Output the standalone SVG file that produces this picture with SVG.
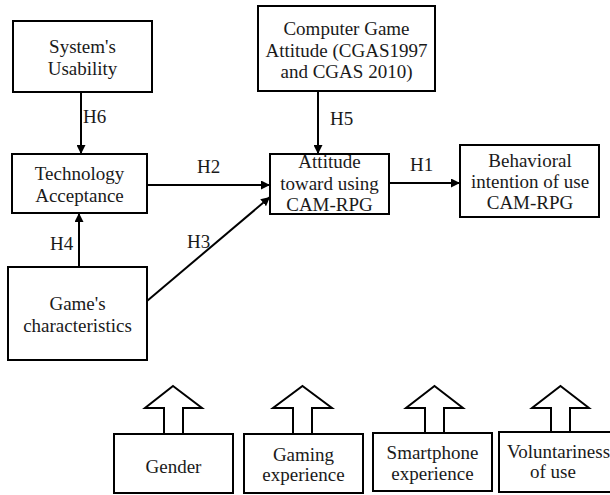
<svg xmlns="http://www.w3.org/2000/svg" width="610" height="495" viewBox="0 0 610 495">
  <style>
    .box { fill: #ffffff; stroke: #000000; stroke-width: 2; }
    text { font-family: "Liberation Serif", "Noto Serif", "Noto Serif CJK SC", "Noto Serif CJK TC", "FreeSerif", "Tinos", "Times", serif; font-size: 19px; fill: #1a1a1a; }
    .lbl { text-anchor: middle; }
    .edge { stroke: #000000; stroke-width: 2; fill: none; marker-end: url(#head); }
    .block { fill: #ffffff; stroke: #000000; stroke-width: 2; stroke-linejoin: miter; }
  </style>
  <defs>
    <marker id="head" viewBox="0 0 10 10" refX="10" refY="5" markerWidth="4.5" markerHeight="4.5" orient="auto" markerUnits="strokeWidth">
      <path d="M0,0 L10,5 L0,10 Z" fill="#000000"/>
    </marker>
  </defs>

  <rect width="610" height="495" fill="#ffffff"/>

  <!-- hypothesis paths -->
  <g id="connectors">
    <line class="edge" x1="81" y1="92" x2="81" y2="154"/>
    <line class="edge" x1="318" y1="91" x2="318" y2="154"/>
    <line class="edge" x1="79" y1="267" x2="79" y2="213"/>
    <line class="edge" x1="147" y1="185" x2="270" y2="185"/>
    <line class="edge" x1="389" y1="183" x2="460" y2="183"/>
    <line class="edge" x1="147" y1="301" x2="270" y2="197"/>
    <text x="83" y="123">H6</text>
    <text x="330" y="125">H5</text>
    <text x="197" y="173">H2</text>
    <text x="410" y="171">H1</text>
    <text x="50" y="250">H4</text>
    <text x="187" y="248">H3</text>
  </g>

  <g id="usability">
    <rect class="box" x="13" y="21" width="139" height="71"/>
    <text class="lbl" x="82.5" y="53">System's</text>
    <text class="lbl" x="82.5" y="75">Usability</text>
  </g>

  <g id="game-attitude">
    <rect class="box" x="258" y="6" width="177" height="85"/>
    <text class="lbl" x="346.5" y="35">Computer Game</text>
    <text class="lbl" x="346.5" y="57">Attitude (CGAS1997</text>
    <text class="lbl" x="346.5" y="78">and CGAS 2010)</text>
  </g>

  <g id="tech-acceptance">
    <rect class="box" x="12" y="154" width="135" height="59"/>
    <text class="lbl" x="79.5" y="180">Technology</text>
    <text class="lbl" x="79.5" y="202">Acceptance</text>
  </g>

  <g id="attitude">
    <rect class="box" x="270" y="154" width="119" height="60"/>
    <text class="lbl" x="329.5" y="168">Attitude</text>
    <text class="lbl" x="329.5" y="190">toward using</text>
    <text class="lbl" x="329.5" y="211">CAM-RPG</text>
  </g>

  <g id="intention">
    <rect class="box" x="460" y="145" width="139" height="72"/>
    <text class="lbl" x="530" y="167">Behavioral</text>
    <text class="lbl" x="530" y="188">intention of use</text>
    <text class="lbl" x="530" y="209">CAM-RPG</text>
  </g>

  <g id="game-characteristics">
    <rect class="box" x="8" y="267" width="139" height="93"/>
    <text class="lbl" x="77.5" y="310">Game's</text>
    <text class="lbl" x="77.5" y="332">characteristics</text>
  </g>

  <!-- moderators with block arrows -->
  <g id="gender">
    <polygon class="block" points="173,386 202,408 183,408 183,434 164,434 164,408 145,408"/>
    <rect class="box" x="114" y="434" width="119" height="59"/>
    <text class="lbl" x="173.5" y="473">Gender</text>
  </g>

  <g id="gaming-experience">
    <polygon class="block" points="302.5,386 332,408 312,408 312,434 293,434 293,408 273,408"/>
    <rect class="box" x="244" y="434" width="119" height="59"/>
    <text class="lbl" x="303.5" y="461">Gaming</text>
    <text class="lbl" x="303.5" y="481">experience</text>
  </g>

  <g id="smartphone-experience">
    <polygon class="block" points="434.5,386 463,408 444,408 444,433 425,433 425,408 406,408"/>
    <rect class="box" x="373" y="433" width="119" height="58"/>
    <text class="lbl" x="432.5" y="459">Smartphone</text>
    <text class="lbl" x="432.5" y="480">experience</text>
  </g>

  <g id="voluntariness">
    <polygon class="block" points="560.5,386 589,408 570,408 570,432 551,432 551,408 532,408"/>
    <rect class="box" x="499" y="432" width="120" height="60"/>
    <text x="507" y="458">Voluntariness</text>
    <text class="lbl" x="553" y="478">of use</text>
  </g>
</svg>
